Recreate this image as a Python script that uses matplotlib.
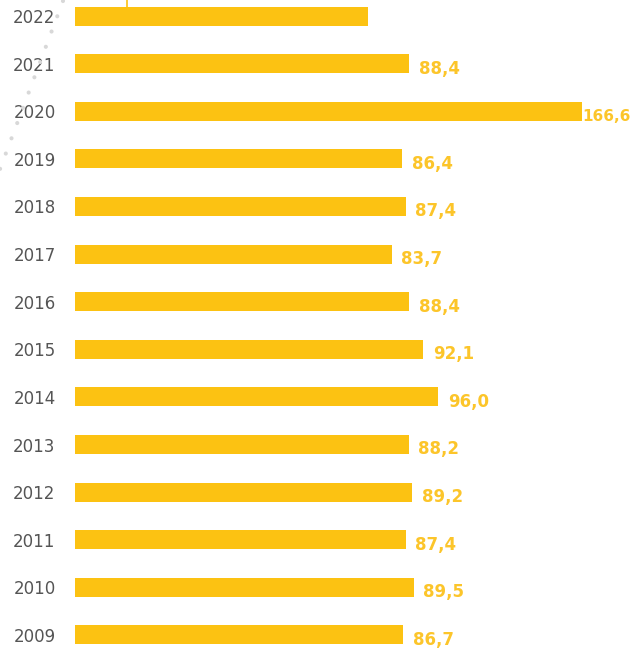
import numpy as np
import matplotlib.pyplot as plt
from matplotlib.lines import Line2D

# data (2022 has no printed value)
years = ['2022', '2021', '2020', '2019', '2018', '2017', '2016',
         '2015', '2014', '2013', '2012', '2011', '2010', '2009']
values = [77.4, 88.4, 166.6, 86.4, 87.4, 83.7, 88.4,
          92.1, 96.0, 88.2, 89.2, 87.4, 89.5, 86.7]
labels = ['', '88,4', '166,6', '86,4', '87,4', '83,7', '88,4',
          '92,1', '96,0', '88,2', '89,2', '87,4', '89,5', '86,7']

W, H = 633, 649
bar_color = '#FCC212'
label_color = '#FCC52A'
xmax = 134.0

fig = plt.figure(figsize=(W / 100, H / 100), dpi=100)
ax = fig.add_axes([75 / W, 0, 507 / W, 1])

y = np.arange(len(years))
ax.barh(y, values, height=0.4, color=bar_color)

ax.set_xlim(0, xmax)
ax.set_ylim(13.295, -0.337)
ax.set_yticks(y)
ax.set_yticklabels(years, fontsize=12, color='#555555')
ax.tick_params(axis='y', length=0, pad=14)
ax.set_xticks([])
for s in ax.spines.values():
    s.set_visible(False)

# value labels (the 2020 bar runs past the axis, so its label sits at the edge)
for yi, v, lab in zip(y, values, labels):
    if not lab:
        continue
    off = 7
    xv = v
    fs = 12
    if v > xmax:
        xv = xmax
        off = 0.5
        fs = 11
    ax.annotate(lab, (xv, yi), xytext=(off, -3.5), textcoords='offset points',
                ha='left', va='center', fontsize=fs, fontweight='bold',
                color=label_color, annotation_clip=False)

# decorations: dotted grey arc on the left, small yellow tick at top
def fx(px):
    return px / W

def fy(py):
    return 1 - py / H

dots = Line2D([fx(63), fx(-3)], [fy(1), fy(177)], transform=fig.transFigure,
              color='#d8d8d8', lw=3, linestyle=(0, (0.01, 3.9)),
              dash_capstyle='round')
fig.add_artist(dots)

tick = Line2D([fx(127), fx(127)], [fy(0), fy(12)], transform=fig.transFigure,
              color=bar_color, lw=1.2)
fig.add_artist(tick)

fig.savefig('out.png', dpi=100)
